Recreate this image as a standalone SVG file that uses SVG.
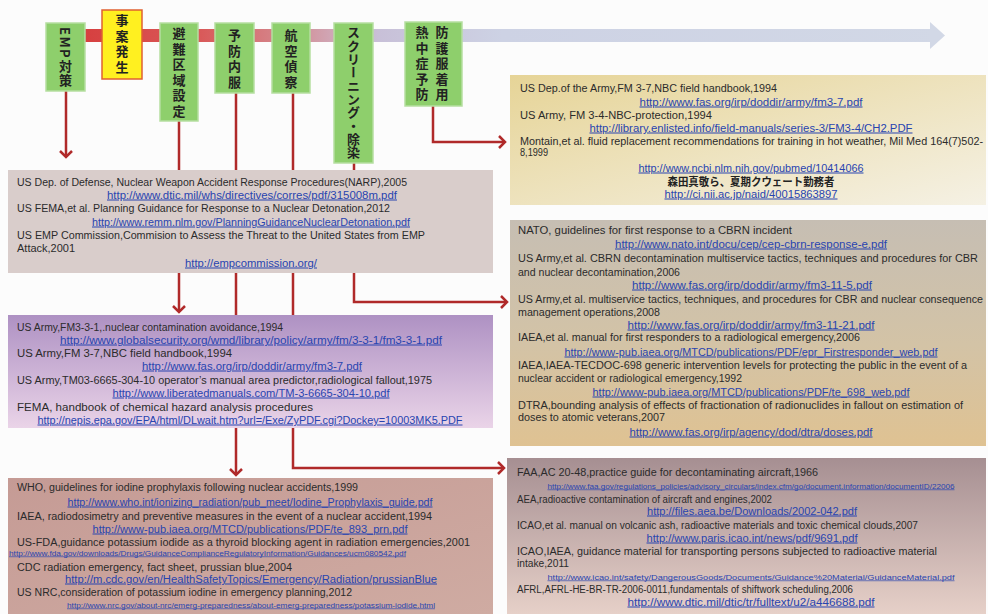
<svg xmlns="http://www.w3.org/2000/svg" width="988" height="614" viewBox="0 0 988 614">
<style>
.t{font-family:"Liberation Sans","Noto Sans CJK JP",sans-serif;font-size:10px;fill:#2b2b2b}
.u{font-family:"Liberation Sans",sans-serif;font-size:10px;fill:#2844b0;text-decoration:underline;text-anchor:middle}
.us{font-family:"Liberation Sans",sans-serif;font-size:6.5px;fill:#2844b0;text-decoration:underline}
.jp{font-family:"Noto Sans CJK JP",sans-serif;font-size:11px;fill:#222;text-anchor:middle;font-weight:bold}
.gn{fill:#8ecf6c;stroke:#b5dea0;stroke-width:1.5}
.vt{font-family:"Noto Sans CJK JP","Noto Sans CJK SC",sans-serif;font-size:13px;font-weight:bold;fill:#222;writing-mode:vertical-rl;letter-spacing:2.5px}
.cn{fill:none;stroke:#b02a2a;stroke-width:2.5}
</style>
<defs>
<marker id="chev" markerUnits="userSpaceOnUse" viewBox="-2 -2 12 16" markerWidth="12" markerHeight="16" refX="6" refY="6" orient="auto" overflow="visible">
<path d="M0,0 L6,6 L0,12" fill="none" stroke="#b02a2a" stroke-width="2.5"/>
</marker>
<linearGradient id="tl" gradientUnits="userSpaceOnUse" x1="60" y1="0" x2="945" y2="0">
<stop offset="0" stop-color="#d63a3a"/>
<stop offset="0.16" stop-color="#d95a5a"/>
<stop offset="0.26" stop-color="#d48a90"/>
<stop offset="0.31" stop-color="#d0a8b8"/>
<stop offset="0.36" stop-color="#c8c0d8"/>
<stop offset="0.5" stop-color="#cdd2e4"/>
<stop offset="1" stop-color="#d2d8e6"/>
</linearGradient>
<linearGradient id="gTR" x1="0" y1="0" x2="1" y2="1">
<stop offset="0" stop-color="#e6d497"/>
<stop offset="1" stop-color="#f5f1e4"/>
</linearGradient>
<linearGradient id="gR2" x1="0" y1="0" x2="0" y2="1">
<stop offset="0" stop-color="#c6beb3"/>
<stop offset="0.55" stop-color="#d3c3a6"/>
<stop offset="1" stop-color="#dfc292"/>
</linearGradient>
<linearGradient id="gL2" x1="0" y1="0" x2="0" y2="1">
<stop offset="0" stop-color="#ae91c3"/>
<stop offset="1" stop-color="#ead4e8"/>
</linearGradient>
<linearGradient id="gBR" x1="0" y1="0" x2="0" y2="1">
<stop offset="0" stop-color="#a68f92"/>
<stop offset="1" stop-color="#e6d0c8"/>
</linearGradient>
<linearGradient id="gBL" x1="0" y1="0" x2="1" y2="1">
<stop offset="0" stop-color="#c59b95"/>
<stop offset="1" stop-color="#cfaba2"/>
</linearGradient>
</defs>
<rect width="988" height="614" fill="#fcfcfc"/>

<g id="timeline">
<rect x="60" y="29" width="877" height="13" fill="url(#tl)"/>
<polygon points="930,22 945,35.5 930,49" fill="#d2d8e6"/>
</g>

<g id="connectors">
<path class="cn" d="M66,91 V157" marker-end="url(#chev)"/>
<path class="cn" d="M179,121 V312" marker-end="url(#chev)"/>
<path class="cn" d="M236,93 V475" marker-end="url(#chev)"/>
<path class="cn" d="M293,93 V468 H504" marker-end="url(#chev)"/>
<path class="cn" d="M354,163 V302 H507" marker-end="url(#chev)"/>
<path class="cn" d="M433,106 V142 H505" marker-end="url(#chev)"/>
</g>

<g id="node-emp">
<rect class="gn" x="46" y="23" width="39" height="68"/>
<text class="vt" x="65.5" y="27" style="letter-spacing:1.5px">EMP対策</text>
</g>
<g id="node-jian">
<rect x="102" y="10" width="40" height="69" fill="#fff020" stroke="#e06030" stroke-width="1.5"/>
<text class="vt" x="122" y="14">事案発生</text>
</g>
<g id="node-hinan">
<rect class="gn" x="160" y="23" width="38" height="98"/>
<text class="vt" x="179" y="27">避難区域設定</text>
</g>
<g id="node-yobo">
<rect class="gn" x="215" y="23" width="39" height="70"/>
<text class="vt" x="234.5" y="29">予防内服</text>
</g>
<g id="node-kouku">
<rect class="gn" x="272" y="23" width="38" height="70"/>
<text class="vt" x="291" y="29">航空偵察</text>
</g>
<g id="node-screening">
<rect class="gn" x="334" y="23" width="39" height="140"/>
<text class="vt" x="353.5" y="26" style="letter-spacing:0.3px">スクリーニング・除染</text>
</g>
<g id="node-bougo">
<rect class="gn" x="405" y="22" width="57" height="84"/>
<text class="vt" x="442" y="26">防護服着用</text>
<text class="vt" x="422" y="26">熱中症予防</text>
</g>

<g id="box-top-right">
<rect x="510" y="75" width="476" height="130" fill="url(#gTR)"/>
<text class="t" x="520" y="91.5" textLength="257" lengthAdjust="spacingAndGlyphs">US Dep.of the Army,FM 3-7,NBC field handbook,1994</text>
<text class="u" x="751" y="105.5" textLength="223" lengthAdjust="spacingAndGlyphs">http://www.fas.org/irp/doddir/army/fm3-7.pdf</text>
<text class="t" x="520" y="118.5" textLength="192" lengthAdjust="spacingAndGlyphs">US Army, FM 3-4-NBC-protection,1994</text>
<text class="u" x="751" y="131.5" textLength="323" lengthAdjust="spacingAndGlyphs">http://library.enlisted.info/field-manuals/series-3/FM3-4/CH2.PDF</text>
<text class="t" x="520" y="144.5" textLength="463" lengthAdjust="spacingAndGlyphs">Montain,et al. fluid replacement recommendations for training in hot weather, Mil Med 164(7)502-</text>
<text class="t" x="520" y="156" textLength="28" lengthAdjust="spacingAndGlyphs">8,1999</text>
<text class="u" x="751" y="171.5" textLength="225" lengthAdjust="spacingAndGlyphs">http://www.ncbi.nlm.nih.gov/pubmed/10414066</text>
<text class="jp" x="751" y="185.5" textLength="167" lengthAdjust="spacingAndGlyphs">森田真敬ら、夏期クウェート勤務者</text>
<text class="u" x="751" y="197.5" textLength="173" lengthAdjust="spacingAndGlyphs">http://ci.nii.ac.jp/naid/40015863897</text>
</g>

<g id="box-left-1">
<rect x="8" y="170" width="485" height="103" fill="#d9cdcb"/>
<text class="t" x="17" y="185.5" textLength="390" lengthAdjust="spacingAndGlyphs">US Dep. of Defense, Nuclear Weapon Accident Response Procedures(NARP),2005</text>
<text class="u" x="252" y="198.5" textLength="290" lengthAdjust="spacingAndGlyphs">http://www.dtic.mil/whs/directives/corres/pdf/315008m.pdf</text>
<text class="t" x="17" y="211.5" textLength="373" lengthAdjust="spacingAndGlyphs">US FEMA,et al. Planning Guidance for Response to a Nuclear Detonation,2012</text>
<text class="u" x="251" y="225.5" textLength="318" lengthAdjust="spacingAndGlyphs">http://www.remm.nlm.gov/PlanningGuidanceNuclearDetonation.pdf</text>
<text class="t" x="17" y="238.5" textLength="408" lengthAdjust="spacingAndGlyphs">US EMP Commission,Commision to Assess the Threat to the United States from EMP</text>
<text class="t" x="17" y="251.5" textLength="58" lengthAdjust="spacingAndGlyphs">Attack,2001</text>
<text class="u" x="251" y="266.5" textLength="132" lengthAdjust="spacingAndGlyphs">http://empcommission.org/</text>
</g>

<g id="box-right-2">
<rect x="510" y="220" width="476" height="226" fill="url(#gR2)"/>
<text class="t" x="518" y="233.5" textLength="274" lengthAdjust="spacingAndGlyphs">NATO, guidelines for first response to a CBRN incident</text>
<text class="u" x="751" y="247.5" textLength="272" lengthAdjust="spacingAndGlyphs">http://www.nato.int/docu/cep/cep-cbrn-response-e.pdf</text>
<text class="t" x="518" y="261.5" textLength="460" lengthAdjust="spacingAndGlyphs">US Army,et al. CBRN decontamination multiservice tactics, techniques and procedures for CBR</text>
<text class="t" x="518" y="275.5" textLength="162" lengthAdjust="spacingAndGlyphs">and nuclear decontamination,2006</text>
<text class="u" x="752" y="288.5" textLength="240" lengthAdjust="spacingAndGlyphs">http://www.fas.org/irp/doddir/army/fm3-11-5.pdf</text>
<text class="t" x="518" y="302.5" textLength="465" lengthAdjust="spacingAndGlyphs">US Army,et al. multiservice tactics, techniques, and procedures for CBR and nuclear consequence</text>
<text class="t" x="518" y="315.5" textLength="142" lengthAdjust="spacingAndGlyphs">management operations,2008</text>
<text class="u" x="751" y="328.5" textLength="247" lengthAdjust="spacingAndGlyphs">http://www.fas.org/irp/doddir/army/fm3-11-21.pdf</text>
<text class="t" x="518" y="340.5" textLength="342" lengthAdjust="spacingAndGlyphs">IAEA,et al. manual for first responders to a radiological emergency,2006</text>
<text class="u" x="751" y="355.5" textLength="373" lengthAdjust="spacingAndGlyphs">http://www-pub.iaea.org/MTCD/publications/PDF/epr_Firstresponder_web.pdf</text>
<text class="t" x="518" y="368.5" textLength="449" lengthAdjust="spacingAndGlyphs">IAEA,IAEA-TECDOC-698 generic intervention levels for protecting the public in the event of a</text>
<text class="t" x="518" y="381.5" textLength="224" lengthAdjust="spacingAndGlyphs">nuclear accident or radiological emergency,1992</text>
<text class="u" x="751" y="395.5" textLength="317" lengthAdjust="spacingAndGlyphs">http://www-pub.iaea.org/MTCD/publications/PDF/te_698_web.pdf</text>
<text class="t" x="518" y="408.5" textLength="445" lengthAdjust="spacingAndGlyphs">DTRA,bounding analysis of effects of fractionation of radionuclides in fallout on estimation of</text>
<text class="t" x="518" y="420.5" textLength="147" lengthAdjust="spacingAndGlyphs">doses to atomic veterans,2007</text>
<text class="u" x="751" y="435.5" textLength="243" lengthAdjust="spacingAndGlyphs">http://www.fas.org/irp/agency/dod/dtra/doses.pdf</text>
</g>

<g id="box-left-2">
<rect x="8" y="315" width="485" height="113" fill="url(#gL2)"/>
<text class="t" x="17" y="330.5" textLength="266" lengthAdjust="spacingAndGlyphs">US Army,FM3-3-1,.nuclear contamination avoidance,1994</text>
<text class="u" x="251" y="343.5" textLength="382" lengthAdjust="spacingAndGlyphs">http://www.globalsecurity.org/wmd/library/policy/army/fm/3-3-1/fm3-3-1.pdf</text>
<text class="t" x="17" y="356.5" textLength="215" lengthAdjust="spacingAndGlyphs">US Army,FM 3-7,NBC field handbook,1994</text>
<text class="u" x="252" y="369.5" textLength="220" lengthAdjust="spacingAndGlyphs">http://www.fas.org/irp/doddir/army/fm3-7.pdf</text>
<text class="t" x="17" y="383.5" textLength="415" lengthAdjust="spacingAndGlyphs">US Army,TM03-6665-304-10 operator’s manual area predictor,radiological fallout,1975</text>
<text class="u" x="251" y="396.5" textLength="277" lengthAdjust="spacingAndGlyphs">http://www.liberatedmanuals.com/TM-3-6665-304-10.pdf</text>
<text class="t" x="17" y="410.5" textLength="296" lengthAdjust="spacingAndGlyphs">FEMA, handbook of chemical hazard analysis procedures</text>
<text class="u" x="250" y="423.5" textLength="425" lengthAdjust="spacingAndGlyphs">http://nepis.epa.gov/EPA/html/DLwait.htm?url=/Exe/ZyPDF.cgi?Dockey=10003MK5.PDF</text>
</g>

<g id="box-bottom-left">
<rect x="8" y="478" width="485" height="136" fill="url(#gBL)"/>
<text class="t" x="17" y="490.5" textLength="341" lengthAdjust="spacingAndGlyphs">WHO, guidelines for iodine prophylaxis following nuclear accidents,1999</text>
<text class="u" x="250" y="505.5" textLength="365" lengthAdjust="spacingAndGlyphs">http://www.who.int/ionizing_radiation/pub_meet/Iodine_Prophylaxis_guide.pdf</text>
<text class="t" x="17" y="519.5" textLength="415" lengthAdjust="spacingAndGlyphs">IAEA, radiodosimetry and preventive measures in the event of a nuclear accident,1994</text>
<text class="u" x="250" y="532.5" textLength="315" lengthAdjust="spacingAndGlyphs">http://www-pub.iaea.org/MTCD/publications/PDF/te_893_prn.pdf</text>
<text class="t" x="17" y="545.5" textLength="453" lengthAdjust="spacingAndGlyphs">US-FDA,guidance potassium iodide as a thyroid blocking agent in radiation emergencies,2001</text>
<text class="us" x="9" y="555.5" textLength="397" lengthAdjust="spacingAndGlyphs">http://www.fda.gov/downloads/Drugs/GuidanceComplianceRegulatoryInformation/Guidances/ucm080542.pdf</text>
<text class="t" x="17" y="570.5" textLength="275" lengthAdjust="spacingAndGlyphs">CDC radiation emergency, fact sheet, prussian blue,2004</text>
<text class="u" x="251" y="582.5" textLength="372" lengthAdjust="spacingAndGlyphs">http://m.cdc.gov/en/HealthSafetyTopics/Emergency/Radiation/prussianBlue</text>
<text class="t" x="17" y="595.5" textLength="335" lengthAdjust="spacingAndGlyphs">US NRC,consideration of potassium iodine in emergency planning,2012</text>
<text class="us" x="251" y="607.5" text-anchor="middle" textLength="368" lengthAdjust="spacingAndGlyphs">http://www.nrc.gov/about-nrc/emerg-preparedness/about-emerg-preparedness/potassium-iodide.html</text>
</g>

<g id="box-bottom-right">
<rect x="507" y="458" width="479" height="156" fill="url(#gBR)"/>
<text class="t" x="517" y="475.5" textLength="301" lengthAdjust="spacingAndGlyphs">FAA,AC 20-48,practice guide for decontaminating aircraft,1966</text>
<text class="us" x="751" y="488.5" text-anchor="middle" textLength="407" lengthAdjust="spacingAndGlyphs">http://www.faa.gov/regulations_policies/advisory_circulars/index.cfm/go/document.information/documentID/22006</text>
<text class="t" x="517" y="502.5" textLength="255" lengthAdjust="spacingAndGlyphs">AEA,radioactive contamination of aircraft and engines,2002</text>
<text class="u" x="752" y="514.5" textLength="210" lengthAdjust="spacingAndGlyphs">http://files.aea.be/Downloads/2002-042.pdf</text>
<text class="t" x="517" y="528.5" textLength="401" lengthAdjust="spacingAndGlyphs">ICAO,et al. manual on volcanic ash, radioactive materials and toxic chemical clouds,2007</text>
<text class="u" x="752" y="541.5" textLength="211" lengthAdjust="spacingAndGlyphs">http://www.paris.icao.int/news/pdf/9691.pdf</text>
<text class="t" x="517" y="554.5" textLength="420" lengthAdjust="spacingAndGlyphs">ICAO,IAEA, guidance material for transporting persons subjected to radioactive material</text>
<text class="t" x="517" y="566.5" textLength="52" lengthAdjust="spacingAndGlyphs">intake,2011</text>
<text class="us" x="751" y="579.5" text-anchor="middle" textLength="407" lengthAdjust="spacingAndGlyphs">http://www.icao.int/safety/DangerousGoods/Documents/Guidance%20Material/GuidanceMaterial.pdf</text>
<text class="t" x="517" y="592.5" textLength="336" lengthAdjust="spacingAndGlyphs">AFRL,AFRL-HE-BR-TR-2006-0011,fundamentals of shiftwork scheduling,2006</text>
<text class="u" x="751" y="605.5" textLength="247" lengthAdjust="spacingAndGlyphs">http://www.dtic.mil/dtic/tr/fulltext/u2/a446688.pdf</text>
</g>
</svg>
